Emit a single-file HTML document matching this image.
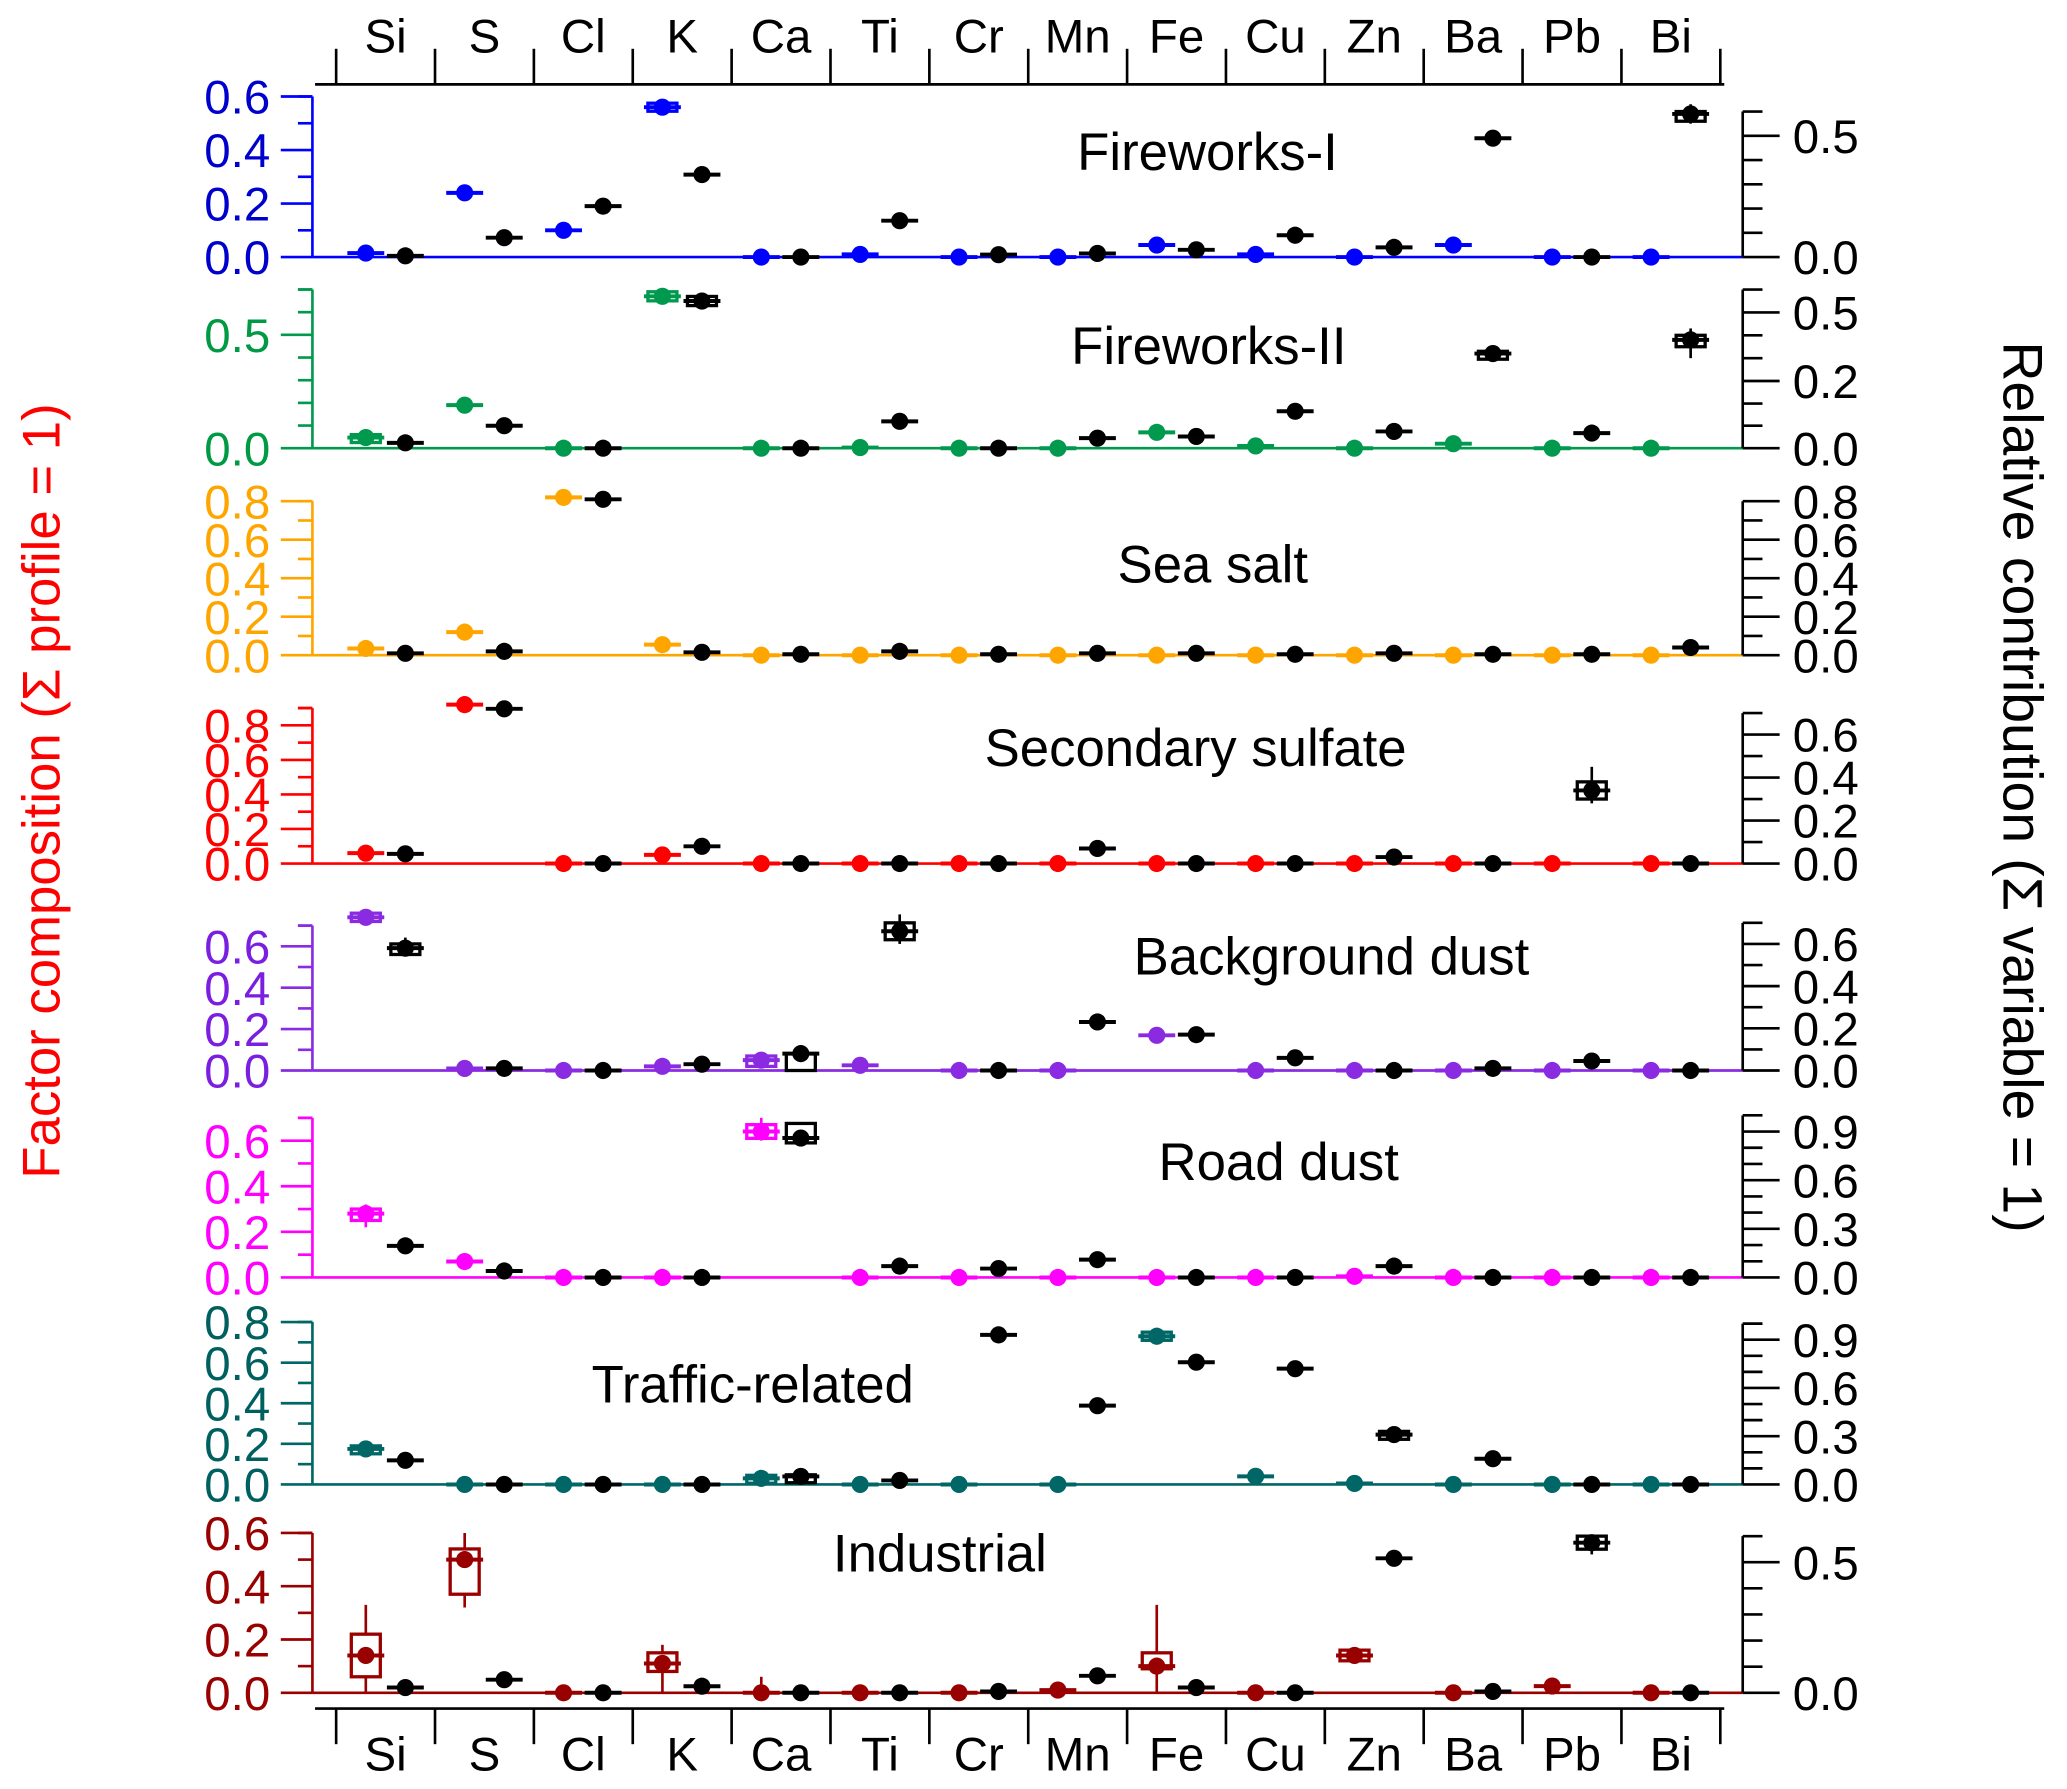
<!DOCTYPE html>
<html><head><meta charset="utf-8"><style>
html,body{margin:0;padding:0;background:#fff;}
svg{display:block;font-family:"Liberation Sans",Arial,sans-serif;}
</style></head><body>
<svg id="chart" width="2067" height="1789" viewBox="0 0 1568 1357" preserveAspectRatio="none" xmlns="http://www.w3.org/2000/svg">
<text transform="translate(45,600) rotate(-90)" text-anchor="middle" font-size="40" fill="#ff0000">Factor composition (Σ profile = 1)</text>
<text transform="translate(1520,597) rotate(90)" text-anchor="middle" font-size="42" fill="#000">Relative contribution (Σ variable = 1)</text>
</svg>
<script>
const categories=["Si","S","Cl","K","Ca","Ti","Cr","Mn","Fe","Cu","Zn","Ba","Pb","Bi"];
const titles=["Fireworks-I","Fireworks-II","Sea salt","Secondary sulfate","Background dust","Road dust","Traffic-related","Industrial"];
const colorVals=[
[0.015,0.24,0.10,0.56,0,0.01,0,0,0.045,0.01,0,0.045,0,0],
[0.047,0.19,0,0.67,0,0.003,0,0,0.07,0.01,0,0.02,0,0],
[0.035,0.12,0.82,0.055,0,0,0,0,0,0,0,0,0,0],
[0.06,0.92,0,0.05,0,0,0,0,0,0,0,0,0,0],
[0.74,0.01,0,0.02,0.05,0.025,0,0,0.17,0,0,0,0,0],
[0.28,0.07,0,0,0.64,0,0,0,0,0,0.005,0,0,0],
[0.175,0,0,0,0.03,0,0,0,0.73,0.04,0.005,0,0,0],
[0.14,0.50,0,0.11,0,0,0,0.01,0.10,0,0.14,0,0.025,0]];
const blackVals=[
[0.005,0.08,0.21,0.34,0,0.15,0.01,0.015,0.03,0.09,0.04,0.49,0,0.59],
[0.016,0.067,0,0.55,0,0.08,0,0.03,0.035,0.11,0.05,0.32,0.045,0.38],
[0.01,0.02,0.81,0.015,0.005,0.02,0.005,0.01,0.01,0.005,0.01,0.005,0.005,0.04],
[0.045,0.72,0,0.08,0,0,0,0.07,0,0,0.03,0,0.34,0],
[0.58,0.01,0,0.03,0.08,0.66,0,0.23,0.17,0.06,0,0.01,0.045,0],
[0.195,0.04,0,0,0.86,0.07,0.055,0.11,0,0,0.07,0,0,0],
[0.15,0,0,0,0.05,0.025,0.93,0.49,0.76,0.72,0.31,0.16,0,0],
[0.02,0.05,0,0.025,0,0,0.005,0.065,0.02,0,0.515,0.005,0.575,0]];
// boxes: panel, side(c=colored,b=black), category index, boxLo, boxHi, errLo, errHi
const boxes=[
[0,"c",3,0.545,0.575,0.53,0.58],[0,"b",13,0.56,0.6,0.55,0.63],
[1,"c",3,0.65,0.69,0.64,0.7],[1,"b",3,0.53,0.57,0.53,0.57],[1,"b",13,0.35,0.4,0.3,0.43],[1,"b",11,0.31,0.33,0.31,0.33],[1,"c",0,0.03,0.06,0.03,0.06],
[3,"b",12,0.3,0.38,0.28,0.45],
[4,"c",0,0.72,0.76,0.7,0.77],[4,"b",0,0.55,0.6,0.55,0.63],[4,"b",5,0.62,0.7,0.6,0.74],[4,"c",4,0.02,0.07,0.02,0.07],[4,"b",4,0,0.08,0,0.08],
[5,"c",0,0.25,0.3,0.22,0.32],[5,"c",4,0.61,0.67,0.6,0.7],[5,"b",4,0.83,0.95,0.83,0.95],
[6,"c",0,0.16,0.19,0.16,0.19],[6,"c",8,0.71,0.75,0.71,0.75],[6,"b",10,0.29,0.33,0.29,0.33],[6,"b",4,0.02,0.06,0.02,0.06],[6,"c",4,0.02,0.045,0.02,0.045],
[7,"c",0,0.06,0.22,0,0.33],[7,"c",1,0.37,0.54,0.32,0.6],[7,"c",3,0.08,0.15,0,0.18],[7,"c",8,0.09,0.15,0,0.33],[7,"c",10,0.12,0.16,0.11,0.17],[7,"b",12,0.55,0.6,0.53,0.6],[7,"c",4,0,0,0,0.06]];
const leftMax=[0.6,0.7,0.8,0.9,0.7,0.7,0.8,0.6];
const leftLabels=[[0,0.2,0.4,0.6],[0,0.5],[0,0.2,0.4,0.6,0.8],[0,0.2,0.4,0.6,0.8],[0,0.2,0.4,0.6],[0,0.2,0.4,0.6],[0,0.2,0.4,0.6,0.8],[0,0.2,0.4,0.6]];
const rightLabels=[[0,0.5],[0,0.2,0.5],[0,0.2,0.4,0.6,0.8],[0,0.2,0.4,0.6],[0,0.2,0.4,0.6],[0,0.3,0.6,0.9],[0,0.3,0.6,0.9],[0,0.5]];
const rightMinor=[[0.1,0.2,0.3,0.4,0.6],[0.067,0.133,0.3,0.4,0.6],[0.1,0.3,0.5,0.7],[0.1,0.3,0.5,0.7],[0.1,0.3,0.5,0.7],[0.1,0.2,0.4,0.5,0.7,0.8,1.0],[0.1,0.2,0.4,0.5,0.7,0.8,1.0],[0.1,0.2,0.3,0.4,0.6]];
// layout (not data)
const colors=["#0000ff","#00994d","#ffa500","#ff0000","#8a2be2","#ff00ff","#006666","#990000"];
const labelColors=["#0000cc","#009944","#ffa500","#ff0000","#7a1fe0","#ff00ff","#006060","#990000"];
const zeroY=[195,340,497,655,812,969,1126,1284];
const leftPx=[203,172,146,131,157,173,154,202];
const rightPxLin=[184,null,146,163,160,123,122,198];
const titlePos=[[916,115],[917,262],[920,428],[907,567],[1010,725],[970,881],[571,1050],[713,1178]];
const NS="http://www.w3.org/2000/svg";
const svg=document.getElementById("chart");
function mk(tag,attrs,parent){const e=document.createElementNS(NS,tag);for(const k in attrs)e.setAttribute(k,attrs[k]);(parent||svg).appendChild(e);return e;}
const AXL=237,AXR=1322;
function catX(i){return 292.5+75*i;}
function yL(p,v){return zeroY[p]-v*leftPx[p];}
function yR(p,v){if(rightPxLin[p]!==null)return zeroY[p]-v*rightPxLin[p];
  const d=[0,0.2,0.5],r=[0,51,103];let k=v<=0.2?0:1;return zeroY[p]-(r[k]+(v-d[k])*(r[k+1]-r[k])/(d[k+1]-d[k]));}
[[64,-1,40],[1296,1,1343]].forEach(([y,dir,ty],ai)=>{
  const ax=mk("g",{});
  
  
  mk("line",{x1:239,x2:1308,y1:y,y2:y,stroke:"#000","stroke-width":2},ax);
  for(let k=0;k<=14;k++){mk("line",{x1:255+75*k,x2:255+75*k,y1:y,y2:y+dir*27,stroke:"#000","stroke-width":2},ax);}
  categories.forEach((c,i)=>{const t=mk("text",{x:catX(i),y:ty,"text-anchor":"middle","font-size":36,fill:"#000"},ax);t.textContent=c;
    });
});
for(let p=0;p<8;p++){
  const g=mk("g",{});
  
  
  const col=colors[p],z=zeroY[p];
  mk("line",{x1:AXL,x2:AXR,y1:z,y2:z,stroke:col,"stroke-width":2},g);
  mk("line",{x1:AXL,x2:AXL,y1:yL(p,leftMax[p]),y2:z,stroke:col,"stroke-width":2},g);
  for(let v=0;v<=leftMax[p]+1e-6;v+=0.1){const major=leftLabels[p].some(l=>Math.abs(l-v)<1e-6);
    mk("line",{x1:major?213:226,x2:AXL,y1:yL(p,v),y2:yL(p,v),stroke:col,"stroke-width":2},g);}
  mk("line",{x1:226,x2:AXL,y1:yL(p,leftMax[p]),y2:yL(p,leftMax[p]),stroke:col,"stroke-width":2},g);
  leftLabels[p].forEach(v=>{const t=mk("text",{x:205,y:yL(p,v)+13,"text-anchor":"end","font-size":36,fill:labelColors[p]},g);t.textContent=v.toFixed(1);
    });
  const rm=rightMinor[p],rtop=Math.max(...rm,...rightLabels[p]);
  mk("line",{x1:AXR,x2:AXR,y1:yR(p,rtop),y2:z,stroke:"#000","stroke-width":2},g);
  rm.forEach(v=>mk("line",{x1:AXR,x2:AXR+15,y1:yR(p,v),y2:yR(p,v),stroke:"#000","stroke-width":2},g));
  rightLabels[p].forEach(v=>{mk("line",{x1:AXR,x2:AXR+28,y1:yR(p,v),y2:yR(p,v),stroke:"#000","stroke-width":2},g);
    const t=mk("text",{x:AXR+38,y:yR(p,v)+13,"font-size":36,fill:"#000"},g);t.textContent=v.toFixed(1);
    });
  const tt=mk("text",{x:titlePos[p][0],y:titlePos[p][1]+14,"text-anchor":"middle","font-size":40,fill:"#000"},g);tt.textContent=titles[p];
  
  boxes.filter(b=>b[0]===p).forEach(b=>{const isC=b[1]==="c";const x=catX(b[2])+(isC?-15:15);const f=isC?(v=>yL(p,v)):(v=>yR(p,v));const c=isC?col:"#000";
    mk("line",{x1:x,x2:x,y1:f(b[5]),y2:f(b[6]),stroke:c,"stroke-width":2},g);
    if(b[4]>b[3])mk("rect",{x:x-11,y:f(b[4]),width:22,height:Math.max(f(b[3])-f(b[4]),6),fill:"#fff",stroke:c,"stroke-width":2.5},g);});
  categories.forEach((c,i)=>{
    const xc=catX(i)-15,yc=yL(p,colorVals[p][i]);
    mk("line",{x1:xc-14,x2:xc+14,y1:yc,y2:yc,stroke:col,"stroke-width":3},g);
    const pc=mk("circle",{cx:xc,cy:yc,r:6.5,fill:col},g);
    
    const xb=catX(i)+15,yb=yR(p,blackVals[p][i]);
    mk("line",{x1:xb-14,x2:xb+14,y1:yb,y2:yb,stroke:"#000","stroke-width":3},g);
    const pb=mk("circle",{cx:xb,cy:yb,r:6.5,fill:"#000"},g);
    
  });
}
</script>
</body></html>
